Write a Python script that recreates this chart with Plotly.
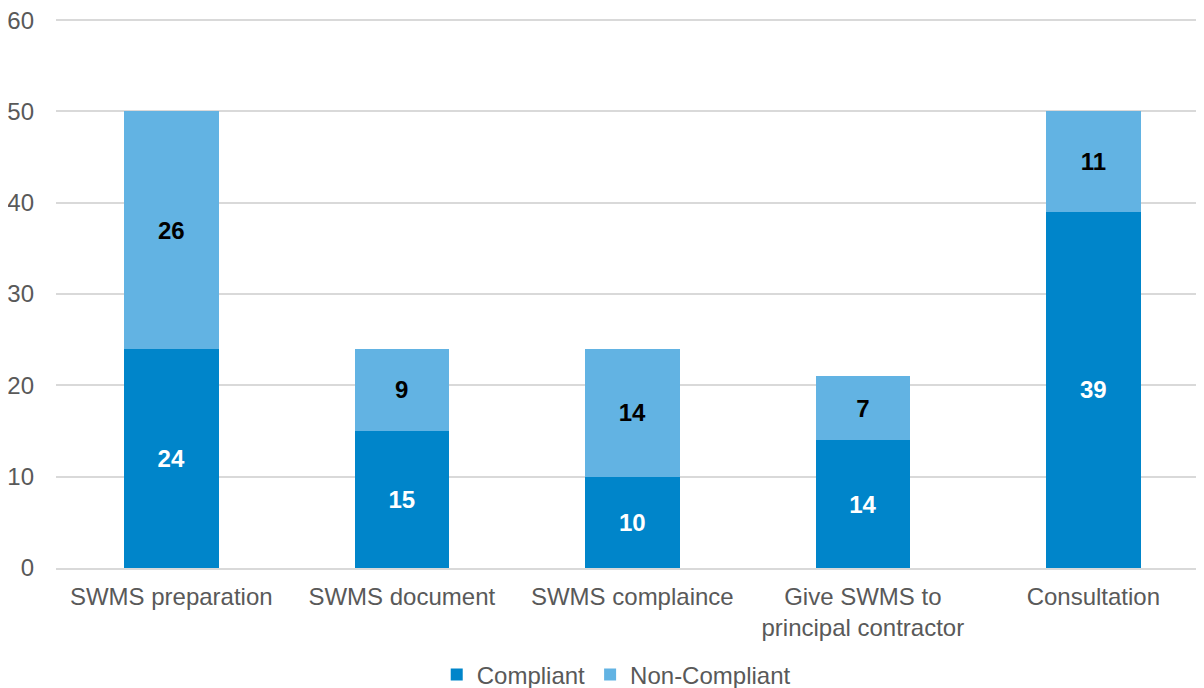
import plotly.graph_objects as go

categories = ["SWMS preparation", "SWMS document", "SWMS complaince",
              "Give SWMS to<br>principal contractor", "Consultation"]
compliant = [24, 15, 10, 14, 39]
non_compliant = [26, 9, 14, 7, 11]
y_ticks = [0, 10, 20, 30, 40, 50, 60]

FONT = "Liberation Sans, Arial, sans-serif"

fig = go.Figure()
fig.add_trace(go.Bar(
    x=categories, y=compliant, name="Compliant",
    marker=dict(color="#0085CA", line=dict(width=0)),
    text=compliant, textposition="inside", insidetextanchor="middle",
    textfont=dict(family=FONT, size=24, color="white", weight="bold"),
    textangle=0,
))
fig.add_trace(go.Bar(
    x=categories, y=non_compliant, name="Non-Compliant",
    marker=dict(color="#62B3E3", line=dict(width=0)),
    text=non_compliant, textposition="inside", insidetextanchor="middle",
    textfont=dict(family=FONT, size=24, color="black", weight="bold"),
    textangle=0,
))

fig.update_layout(
    barmode="stack",
    bargap=0.59,
    width=1196, height=680,
    margin=dict(l=48, r=0, t=3, b=120, autoexpand=False),
    plot_bgcolor="white", paper_bgcolor="white",
    font=dict(family=FONT, size=24, color="#595959"),
    showlegend=True,
    legend=dict(orientation="h", x=0.488, xanchor="center", y=-0.192, yanchor="middle",
                font=dict(size=24, color="#595959"), itemwidth=30,
                traceorder="normal"),
    uniformtext=dict(mode=False),
)
fig.update_xaxes(showline=True, linecolor="#d9d9d9", linewidth=1.5, automargin=False,
                 range=[-0.5, 4.48],
                 tickfont=dict(size=24, color="#595959"), ticks="", showgrid=False,
                 ticklabelstandoff=6, ticklabeloverflow="allow")
fig.update_yaxes(range=[0, 61], tickvals=y_ticks, showgrid=True, gridcolor="#d9d9d9",
                 gridwidth=1.5, zeroline=False, ticks="", ticklabelstandoff=21,
                 automargin=False, ticklabeloverflow="allow",
                 tickfont=dict(size=24, color="#595959"))

fig.write_html("out.html")
